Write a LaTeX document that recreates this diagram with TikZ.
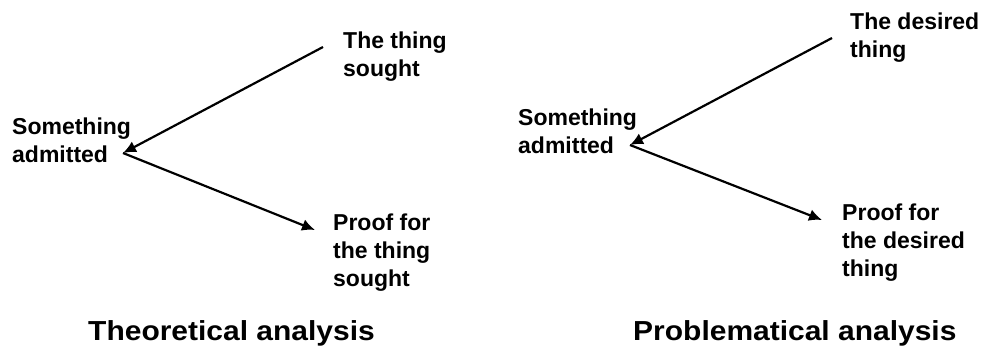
\documentclass[tikz,border=0pt]{standalone}
\usepackage{fontspec}
\setmainfont{Liberation Sans}
\usetikzlibrary{arrows.meta}
\tikzset{
  lbl/.style={anchor=base west, inner sep=0pt, align=left, font=\bfseries\fontsize{23}{28}\selectfont},
  ttl/.style={anchor=base west, inner sep=0pt, xscale=1.09, font=\bfseries\fontsize{27.5}{32}\selectfont},
  arr/.style={line width=2.2pt, -{Latex[length=13pt,width=12pt]}}
}
\begin{document}
\begin{tikzpicture}[x=1pt,y=-1pt]
\useasboundingbox (0,0) rectangle (984,348);
% left diagram (base = last line baseline)
\node[lbl] (SA1) at (12,162.5) {Something\\admitted};
\node[lbl] (TS1) at (343,76) {The thing\\sought};
\node[lbl] (PF1) at (333,286) {Proof for\\the thing\\sought};
\coordinate (TS1s) at (323,47);
\coordinate (SA1j) at (123,153);
\coordinate (PF1e) at (315,230);
\draw[arr] (TS1s) -- (SA1j);
\draw[arr] (SA1j) -- (PF1e);
\node[ttl] (T1) at (88,340) {Theoretical analysis};
% right diagram
\node[lbl] (SA2) at (518,153) {Something\\admitted};
\node[lbl] (TD2) at (850,57) {The desired\\thing};
\node[lbl] (PF2) at (842,276) {Proof for\\the desired\\thing};
\coordinate (TD2s) at (832,38);
\coordinate (SA2j) at (630,145);
\coordinate (PF2e) at (822,220);
\draw[arr] (TD2s) -- (SA2j);
\draw[arr] (SA2j) -- (PF2e);
\node[ttl] (T2) at (633,340) {Problematical analysis};
\end{tikzpicture}
\end{document}
